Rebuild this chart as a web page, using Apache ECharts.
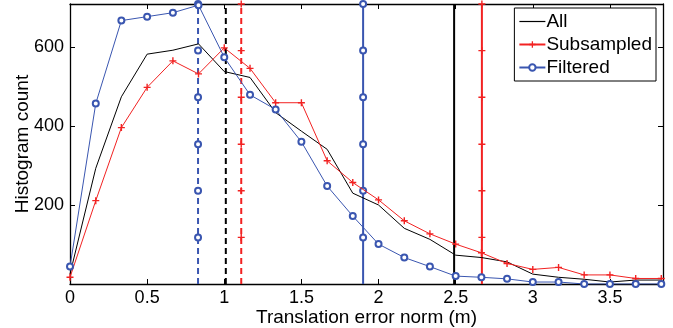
<!DOCTYPE html>
<html>
<head>
<meta charset="utf-8">
<script src="https://cdn.jsdelivr.net/npm/echarts@6/dist/echarts.min.js"></script>
<style>
html,body{margin:0;padding:0;background:#fff;}
#c{width:673px;height:328px;}
</style>
</head>
<body>
<div id="c"></div>
<script>
// ---- data ----
var binCenters = [0, 0.167, 0.333, 0.5, 0.667, 0.833, 1, 1.167, 1.333, 1.5, 1.667, 1.833, 2, 2.167, 2.333, 2.5, 2.667, 2.833, 3, 3.167, 3.333, 3.5, 3.667, 3.833];
var allCounts = [25, 293, 474, 582, 592, 608, 538, 523, 434, 387, 341, 230, 200, 141, 113, 73, 67, 56, 25, 17, 12, 5, 10, 10];
var subsampledCounts = [17, 211, 396, 498, 565, 532, 598, 546, 459, 459, 312, 257, 213, 160, 127, 101, 79, 52, 37, 42, 23, 23, 14, 14];
var filteredCounts = [44, 457, 667, 677, 687, 706, 574, 479, 442, 360, 248, 172, 101, 67, 44, 20, 17, 13, 5, 5, 0, 0, 0, 0];
// vertical reference lines (x positions): dashed and solid statistics per series
var allDashedX = 1.01, subDashedX = 1.11, filtDashedX = 0.83;
var allSolidX = 2.49, subSolidX = 2.67, filtSolidX = 1.90;
var vLevels = [0, 118, 236, 354, 473, 591, 709];
var xTicks = [0, 0.5, 1, 1.5, 2, 2.5, 3, 3.5];
var yTicks = [0, 200, 400, 600];
var seriesNames = ['All', 'Subsampled', 'Filtered'];

var BLACK = '#000000', RED = '#f22222', BLUE = '#3a56b0';
var PLUS = 'path://M4,0H6V4H10V6H6V10H4V6H0V4H4Z';
var FONT = 'Liberation Sans';

function pairs(xs, ys){ return xs.map(function(x,i){ return [x, ys[i]]; }); }
function vline(x){ return vLevels.map(function(v, i){ return i === 0 ? {value: [x, v], symbol: 'none'} : [x, v]; }); }

var chart = echarts.init(document.getElementById('c'), null, {renderer:'canvas'});
var axisLineStyle = {color: BLACK, width: 1.3};
var option = {
  animation: false,
  backgroundColor: '#fff',
  textStyle: {fontFamily: FONT},
  grid: {left: 70, right: 10, top: 4, bottom: 44, outerBoundsMode: 'none', containLabel: false},
  xAxis: [{
    type: 'value', min: 0, max: 3.844, interval: 0.5, position: 'bottom',
    axisLine: {show: true, lineStyle: axisLineStyle, onZero: false},
    axisTick: {show: true, inside: true, length: 5, lineStyle: {color: BLACK}},
    splitLine: {show: false},
    axisLabel: {show: true, showMaxLabel: false, color: BLACK, fontSize: 18, fontFamily: FONT, margin: 5,
      formatter: function(v){ return xTicks.indexOf(Math.round(v*10)/10) >= 0 ? String(Math.round(v*10)/10) : ''; }},
    name: 'Translation error norm (m)', nameLocation: 'middle', nameGap: 24, nameMoveOverlap: false,
    nameTextStyle: {color: BLACK, fontSize: 19, fontFamily: FONT}
  },{
    type: 'value', min: 0, max: 3.844, interval: 0.5, position: 'top',
    axisLine: {show: true, lineStyle: axisLineStyle, onZero: false},
    axisTick: {show: true, inside: true, length: 5, lineStyle: {color: BLACK}},
    axisLabel: {show: false}, splitLine: {show: false}
  }],
  yAxis: [{
    type: 'value', min: 0, max: 709, interval: 200, position: 'left',
    axisLine: {show: true, lineStyle: axisLineStyle, onZero: false},
    axisTick: {show: true, inside: true, length: 5, lineStyle: {color: BLACK}},
    splitLine: {show: false},
    axisLabel: {show: true, showMaxLabel: false, showMinLabel: false, color: BLACK, fontSize: 18, fontFamily: FONT, margin: 6,
      formatter: function(v){ return yTicks.indexOf(v) >= 0 ? String(v) : ''; }},
    name: 'Histogram count', nameLocation: 'middle', nameGap: 38, nameRotate: 90, nameMoveOverlap: false,
    nameTextStyle: {color: BLACK, fontSize: 19, fontFamily: FONT}
  },{
    type: 'value', min: 0, max: 709, interval: 200, position: 'right',
    axisLine: {show: true, lineStyle: axisLineStyle, onZero: false},
    axisTick: {show: true, inside: true, length: 5, lineStyle: {color: BLACK}},
    axisLabel: {show: false}, splitLine: {show: false}
  }],
  legend: {
    data: [{name: 'All', icon: 'path://M0,0H26V1.2H0Z'}, 'Subsampled', 'Filtered'],
    orient: 'vertical', right: 17, top: 8,
    backgroundColor: '#fff', borderColor: BLACK, borderWidth: 1,
    padding: [4, 4, 4, 4], itemGap: 4, itemWidth: 26, itemHeight: 8,
    textStyle: {color: BLACK, fontSize: 19, fontFamily: FONT, padding: [0,0,0,-4]}
  },
  series: [
    {name: 'All', type: 'line', data: pairs(binCenters, allCounts), symbol: 'none',
     lineStyle: {color: BLACK, width: 1}, itemStyle: {color: BLACK}, z: 5},
    {name: 'Subsampled', type: 'line', data: pairs(binCenters, subsampledCounts), symbol: PLUS, symbolSize: 7,
     lineStyle: {color: RED, width: 1}, itemStyle: {color: RED}, z: 5},
    {name: 'Filtered', type: 'line', data: pairs(binCenters, filteredCounts), symbol: 'emptyCircle', symbolSize: 6,
     lineStyle: {color: BLUE, width: 1}, itemStyle: {color: BLUE, borderColor: BLUE, borderWidth: 1}, z: 5},
    // vertical reference lines
    {name: 'allDashed', type: 'line', data: vline(allDashedX), symbol: 'none',
     lineStyle: {color: BLACK, width: 2, type: [6, 4]}, z: 3},
    {name: 'subDashed', type: 'line', data: vline(subDashedX), symbol: PLUS, symbolSize: 7,
     lineStyle: {color: RED, width: 2, type: [6, 4]}, itemStyle: {color: RED}, z: 3},
    {name: 'filtDashed', type: 'line', data: vline(filtDashedX), symbol: 'emptyCircle', symbolSize: 6,
     lineStyle: {color: BLUE, width: 2, type: [6, 4]}, itemStyle: {color: BLUE, borderColor: BLUE, borderWidth: 2}, z: 3},
    {name: 'allSolid', type: 'line', data: vline(allSolidX), symbol: 'none',
     lineStyle: {color: BLACK, width: 2}, z: 3},
    {name: 'subSolid', type: 'line', data: vline(subSolidX), symbol: PLUS, symbolSize: 7,
     lineStyle: {color: RED, width: 2}, itemStyle: {color: RED}, z: 3},
    {name: 'filtSolid', type: 'line', data: vline(filtSolidX), symbol: 'emptyCircle', symbolSize: 6,
     lineStyle: {color: BLUE, width: 2}, itemStyle: {color: BLUE, borderColor: BLUE, borderWidth: 2}, z: 3}
  ]
};
chart.setOption(option);
</script>
</body>
</html>
